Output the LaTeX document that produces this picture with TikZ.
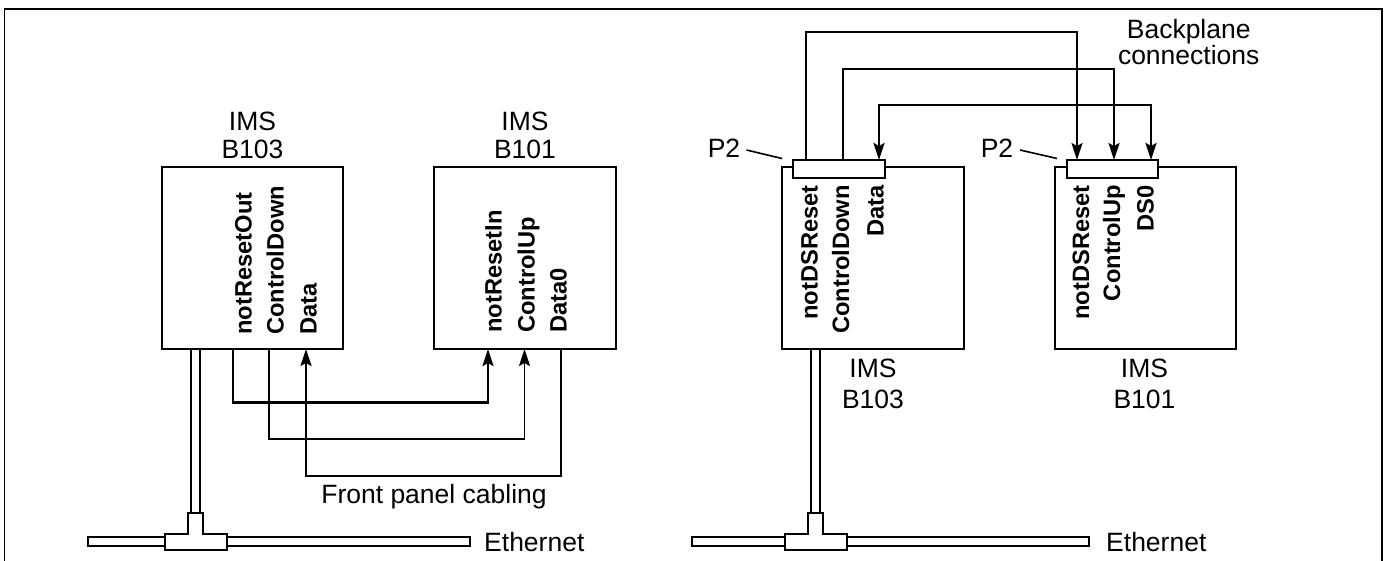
\documentclass[tikz,border=0pt]{standalone}
\usepackage{fontspec}
\setmainfont{Liberation Sans}
\usetikzlibrary{arrows.meta}
\begin{document}
\begin{tikzpicture}[x=1pt,y=-1pt,
  box/.style={draw,line width=2pt,minimum height=182pt,inner sep=0pt},
  conn/.style={draw,fill=white,line width=2pt,minimum width=91pt,minimum height=18pt,inner sep=0pt},
  lbl/.style={font=\fontsize{26.5}{30}\selectfont,inner sep=0pt,anchor=base},
  pinlbl/.style={font=\fontsize{23.7}{28}\selectfont\bfseries,inner sep=0pt,rotate=90,text height=17pt,text depth=0pt},
  wire/.style={line width=1.7pt},
  thickwire/.style={line width=2.6pt},
  arr/.style={-{Stealth[length=17pt,width=11pt,inset=3pt]}},
  darr/.style={{Stealth[length=17pt,width=11pt,inset=3pt]}-{Stealth[length=17pt,width=11pt,inset=3pt]}},
  cable/.style={draw,fill=white,line width=1.9pt},
  leader/.style={line width=1.6pt},
]
\useasboundingbox (0,0) rectangle (1388,561);
\clip (0,0) rectangle (1388,561);
% outer frame
\draw[line width=1.9pt] (4.5,600) -- (4.5,9) -- (1382,9) -- (1382,600);

% ---------------- LEFT HALF ----------------
\node[box,minimum width=181pt] (B103L) at (252.5,258) {};
\node[box,minimum width=182pt] (B101L) at (525,258) {};
\node[lbl] (imsA) at (252.5,130.6) {IMS};
\node[lbl] (nameA) at (252.5,159) {B103};
\node[lbl] (imsB) at (525,130.6) {IMS};
\node[lbl] (nameB) at (525,159) {B101};

\node[pinlbl,anchor=west] (tA1) at (243,335) {notResetOut};
\node[pinlbl,anchor=west] (tA2) at (275,335) {ControlDown};
\node[pinlbl,anchor=west] (tA3) at (308,335) {Data};
\node[pinlbl,anchor=west] (tB1) at (493,333) {notResetIn};
\node[pinlbl,anchor=west] (tB2) at (526,333) {ControlUp};
\node[pinlbl,anchor=west] (tB3) at (558,333) {Data0};

\coordinate (pL1) at (233,349);
\coordinate (pL2) at (269,349);
\coordinate (pL3) at (306,349);
\coordinate (qL1) at (488,349);
\coordinate (qL2) at (524.5,349);
\coordinate (qL3) at (561,349);
\draw[thickwire,arr] (pL1) -- ++(0,53.5) -| (qL1);
\draw[wire,arr] (pL2) -- ++(0,90) -| (qL2);
\draw[wire,line width=1.9pt,arr] (qL3) -- ++(0,127) -| (pL3);
\node[lbl] (fpc) at (434,503) {Front panel cabling};

% ethernet left
\draw[cable] (88,537) rectangle (470,546);
\draw[cable] (191,349) rectangle (200,513);
\draw[cable] (188,513) -- (203,513) -- (203,534) -- (227,534) -- (227,550)
  -- (165,550) -- (165,534) -- (188,534) -- cycle;
\node[lbl,anchor=base west] (ethA) at (484,551) {Ethernet};

% ---------------- RIGHT HALF ----------------
\node[box,minimum width=182pt] (B103R) at (873,258) {};
\node[box,minimum width=181pt] (B101R) at (1145.5,258) {};
\node[conn,minimum width=91.6pt] (P2a) at (838.8,169) {};
\node[conn] (P2b) at (1112.5,169) {};

\node[lbl] (imsC) at (873,377.5) {IMS};
\node[lbl] (nameC) at (873,408.6) {B103};
\node[lbl] (imsD) at (1144.5,377.5) {IMS};
\node[lbl] (nameD) at (1144.5,408.6) {B101};

\node[pinlbl,anchor=east] (tC1) at (809,185) {notDSReset};
\node[pinlbl,anchor=east] (tC2) at (840.5,185) {ControlDown};
\node[pinlbl,anchor=east] (tC3) at (875,185) {Data};
\node[pinlbl,anchor=east] (tD1) at (1080.5,185) {notDSReset};
\node[pinlbl,anchor=east] (tD2) at (1111.6,185) {ControlUp};
\node[pinlbl,anchor=east] (tD3) at (1145,185) {DS0};

\node[lbl] (p2a) at (724,157.4) {P2};
\node[lbl] (p2b) at (997,157.4) {P2};
\coordinate (la) at (746.5,150);
\coordinate (lb) at (1020,150);
\draw[leader] (la) -- (782,158.5);
\draw[leader] (lb) -- (1057,158.5);

\coordinate (pR1) at (806,160);
\coordinate (pR2) at (843,160);
\coordinate (pR3) at (879,160);
\coordinate (qR1) at (1077,160);
\coordinate (qR2) at (1114,160);
\coordinate (qR3) at (1151,160);
\draw[wire,arr] (pR1) -- ++(0,-128) -| (qR1);
\draw[wire,arr] (pR2) -- ++(0,-91) -| (qR2);
\draw[thickwire,darr] (pR3) -- ++(0,-55) -| (qR3);

\node[lbl] (bp1) at (1188.7,38.6) {Backplane};
\node[lbl] (bp2) at (1188.7,64.4) {connections};

% ethernet right
\draw[cable] (692,537) rectangle (1089,546);
\draw[cable] (811.25,349) rectangle (820.25,513);
\draw[cable] (808.25,513) -- (823.25,513) -- (823.25,534) -- (846.75,534) -- (846.75,550)
  -- (784.75,550) -- (784.75,534) -- (808.25,534) -- cycle;
\node[lbl,anchor=base west] (ethB) at (1106,551) {Ethernet};
\end{tikzpicture}
\end{document}
